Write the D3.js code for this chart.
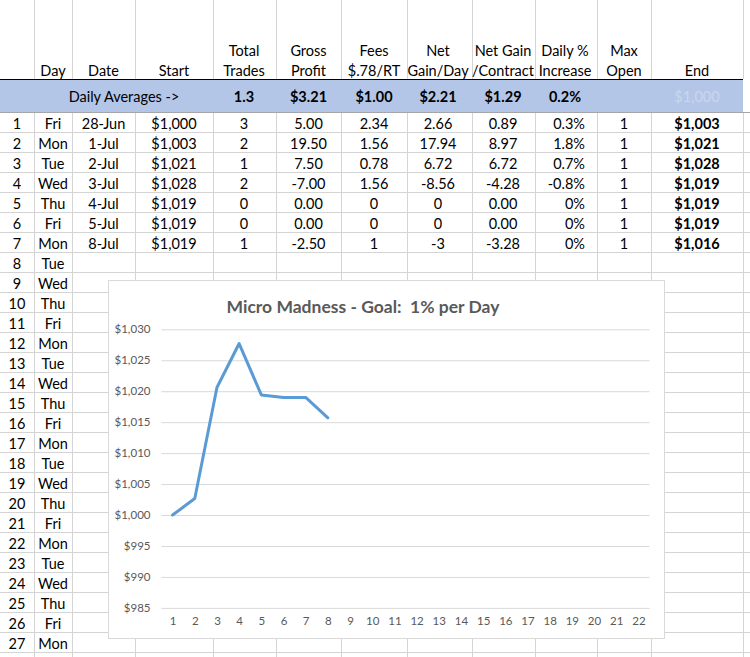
<!DOCTYPE html>
<html>
<head>
<meta charset="utf-8">
<script src="https://cdn.jsdelivr.net/npm/d3@7"></script>
<style>
  body { margin: 0; background: #fff; }
  svg { display: block; font-family: Lato, "Open Sans", sans-serif; }
  .cell { font-size: 14.5px; fill: #000; }
  .bold { font-weight: bold; }
  .chart text { fill: #595959; }
</style>
</head>
<body>
<svg id="sheet" width="750" height="657"></svg>
<script>
// sheet data
const headLine1 = ['', '', '', 'Total', 'Gross', 'Fees', 'Net', 'Net Gain', 'Daily %', 'Max', ''];
const headLine2 = ['Day', 'Date', 'Start', 'Trades', 'Profit', '$.78/RT', 'Gain/Day', '/Contract', 'Increase', 'Open', 'End'];
const averages = ['1.3', '$3.21', '$1.00', '$2.21', '$1.29', '0.2%'];

const rowDays = ['Fri', 'Mon', 'Tue', 'Wed', 'Thu', 'Fri', 'Mon', 'Tue', 'Wed', 'Thu', 'Fri', 'Mon', 'Tue', 'Wed',
  'Thu', 'Fri', 'Mon', 'Tue', 'Wed', 'Thu', 'Fri', 'Mon', 'Tue', 'Wed', 'Thu', 'Fri', 'Mon'];
const dates = ['28-Jun', '1-Jul', '2-Jul', '3-Jul', '4-Jul', '5-Jul', '8-Jul'];
const starts = ['$1,000', '$1,003', '$1,021', '$1,028', '$1,019', '$1,019', '$1,019'];
const trades = ['3', '2', '1', '2', '0', '0', '1'];
const gross = ['5.00', '19.50', '7.50', '-7.00', '0.00', '0.00', '-2.50'];
const fees = ['2.34', '1.56', '0.78', '1.56', '0', '0', '1'];
const netDay = ['2.66', '17.94', '6.72', '-8.56', '0', '0', '-3'];
const netContract = ['0.89', '8.97', '6.72', '-4.28', '0.00', '0.00', '-3.28'];
const dailyPct = ['0.3%', '1.8%', '0.7%', '-0.8%', '0%', '0%', '0%'];
const maxOpen = ['1', '1', '1', '1', '1', '1', '1'];
const ends = ['$1,003', '$1,021', '$1,028', '$1,019', '$1,019', '$1,019', '$1,016'];

// chart data
const chartTitle = 'Micro Madness - Goal:  1% per Day';
const dayNumbers = d3.range(1, 23);
const balance = [1000, 1002.66, 1020.6, 1027.7, 1019.4, 1019, 1019, 1015.7];
const yTicks = [985, 990, 995, 1000, 1005, 1010, 1015, 1020, 1025, 1030];

const svg = d3.select('#sheet');
const colLines = [34, 72, 135, 213, 276, 341, 407, 472, 535, 597, 651, 743];
const colCenters = [53, 103.5, 174, 244, 308.5, 374, 438, 503, 565, 624, 697];
const rowTop = 112, rowH = 20;

// blue averages band
svg.append('rect').attr('x', 0).attr('y', 80).attr('width', 743).attr('height', 32).attr('fill', '#b4c6e7');

// grid
const grid = svg.append('g').attr('stroke', '#d4d4d4').attr('stroke-width', 1);
colLines.forEach((x) => {
  grid.append('line').attr('x1', x + 0.5).attr('x2', x + 0.5).attr('y1', 0).attr('y2', 79);
  grid.append('line').attr('x1', x + 0.5).attr('x2', x + 0.5).attr('y1', 112).attr('y2', 657);
});
d3.range(1, 28).forEach((k) => {
  grid.append('line').attr('x1', 0).attr('x2', 750)
    .attr('y1', rowTop + k * rowH + 0.5).attr('y2', rowTop + k * rowH + 0.5);
});
svg.append('line').attr('x1', 0).attr('x2', 743).attr('y1', 79.5).attr('y2', 79.5)
  .attr('stroke', '#000').attr('stroke-width', 1.2);
svg.append('line').attr('x1', 0).attr('x2', 750).attr('y1', 112.5).attr('y2', 112.5)
  .attr('stroke', '#a6a6a6');

// header text
const txt = (x, y, s, cls, anchor) => svg.append('text')
  .attr('class', 'cell ' + (cls || ''))
  .attr('x', x).attr('y', y)
  .attr('text-anchor', anchor || 'middle')
  .attr('dominant-baseline', 'central')
  .text(s);

headLine1.forEach((s, i) => { if (s) txt(colCenters[i], 50, s); });
headLine2.forEach((s, i) => txt(colCenters[i], 70, s));

txt(124, 96, 'Daily Averages ->');
averages.forEach((s, i) => txt(colCenters[i + 3], 96, s, 'bold'));
txt(697, 96, '$1,000').style('fill', '#c9d6ee');

// rows
rowDays.forEach((d, i) => {
  const y = rowTop + i * rowH + 11;
  txt(17, y, String(i + 1));
  txt(colCenters[0], y, d);
});
const cols = [dates, starts, trades, gross, fees, netDay, netContract];
dates.forEach((_, i) => {
  const y = rowTop + i * rowH + 11;
  cols.forEach((c, j) => txt(colCenters[j + 1], y, c[i]));
  txt(585, y, dailyPct[i], '', 'end');
  txt(colCenters[9], y, maxOpen[i]);
  txt(colCenters[10], y, ends[i], 'bold');
});

// chart
const chart = svg.append('g').attr('class', 'chart');
chart.append('rect').attr('x', 108.5).attr('y', 280.5).attr('width', 556).attr('height', 358)
  .attr('fill', '#fff').attr('stroke', '#d9d9d9');

chart.append('text').attr('x', 363).attr('y', 306)
  .attr('text-anchor', 'middle').attr('dominant-baseline', 'central')
  .style('font-size', '17.5px').style('font-weight', 'bold').style('white-space', 'pre')
  .text(chartTitle);

const x = d3.scalePoint().domain(dayNumbers).range([161.5, 649.5]).padding(0.5);
const y = d3.scaleLinear().domain([985, 1030]).range([607.9, 329.3]);

const yAxis = chart.append('g').attr('transform', 'translate(161.5,0)')
  .call(d3.axisLeft(y).tickValues(yTicks).tickSize(-488).tickPadding(11)
    .tickFormat((d) => '$' + d3.format(',')(d)));
yAxis.select('.domain').remove();
yAxis.selectAll('line').attr('stroke', '#d9d9d9');
yAxis.selectAll('text').style('font-size', '11.5px').style('font-family', 'Lato, sans-serif');

const xAxis = chart.append('g').attr('transform', 'translate(0,607.9)')
  .call(d3.axisBottom(x).tickSize(0).tickPadding(9));
xAxis.select('.domain').remove();
xAxis.selectAll('text').style('font-size', '11.5px').style('font-family', 'Lato, sans-serif');

chart.append('path').datum(balance)
  .attr('fill', 'none').attr('stroke', '#5b9bd5').attr('stroke-width', 3)
  .attr('stroke-linejoin', 'round').attr('stroke-linecap', 'round')
  .attr('d', d3.line().x((d, i) => x(dayNumbers[i])).y((d) => y(d)));
</script>
</body>
</html>
